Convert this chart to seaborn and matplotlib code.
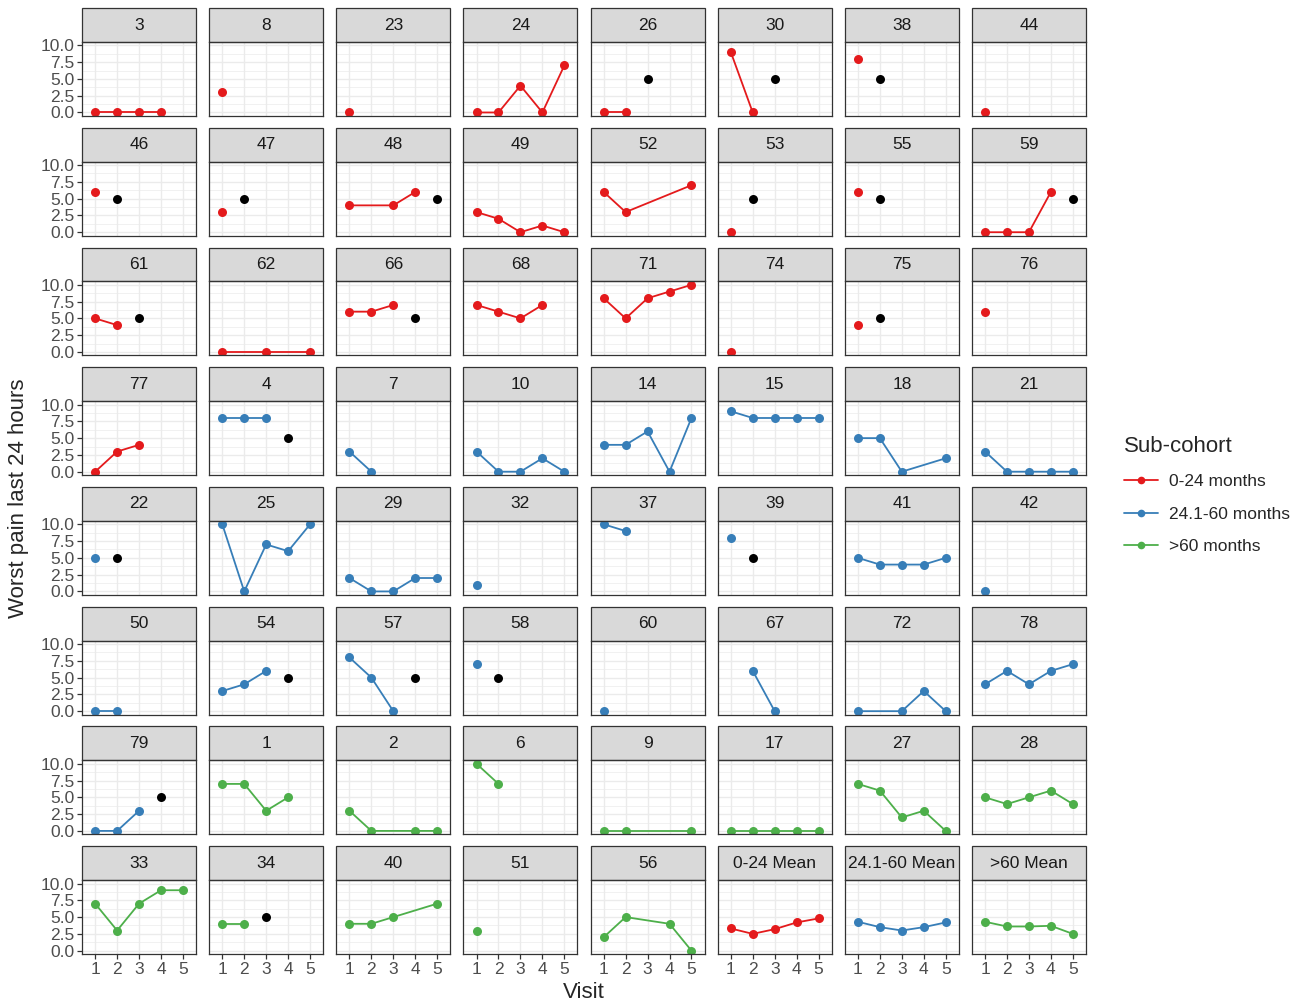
import numpy as np
import pandas as pd
import matplotlib.pyplot as plt
import seaborn as sns
from matplotlib.lines import Line2D
from matplotlib.patches import Rectangle

sns.set_theme(style="white")
plt.rcParams["font.family"] = ["Liberation Sans", "DejaVu Sans"]

# Data
visits = [1, 2, 3, 4, 5]
N = None

panels = ["3", "8", "23", "24", "26", "30", "38", "44",
          "46", "47", "48", "49", "52", "53", "55", "59",
          "61", "62", "66", "68", "71", "74", "75", "76",
          "77", "4", "7", "10", "14", "15", "18", "21",
          "22", "25", "29", "32", "37", "39", "41", "42",
          "50", "54", "57", "58", "60", "67", "72", "78",
          "79", "1", "2", "6", "9", "17", "27", "28",
          "33", "34", "40", "51", "56", "0-24 Mean", "24.1-60 Mean", ">60 Mean"]

cohort_names = ["0-24 months", "24.1-60 months", ">60 months"]
panel_cohort = (["0-24 months"] * 25 + ["24.1-60 months"] * 24 + [">60 months"] * 12
                + ["0-24 months", "24.1-60 months", ">60 months"])

pain = [
    [0, 0, 0, 0, N], [3, N, N, N, N], [0, N, N, N, N], [0, 0, 4, 0, 7],
    [0, 0, N, N, N], [9, 0, N, N, N], [8, N, N, N, N], [0, N, N, N, N],
    [6, N, N, N, N], [3, N, N, N, N], [4, N, 4, 6, N], [3, 2, 0, 1, 0],
    [6, 3, N, N, 7], [0, N, N, N, N], [6, N, N, N, N], [0, 0, 0, 6, N],
    [5, 4, N, N, N], [0, N, 0, N, 0], [6, 6, 7, N, N], [7, 6, 5, 7, N],
    [8, 5, 8, 9, 10], [0, N, N, N, N], [4, N, N, N, N], [6, N, N, N, N],
    [0, 3, 4, N, N], [8, 8, 8, N, N], [3, 0, N, N, N], [3, 0, 0, 2, 0],
    [4, 4, 6, 0, 8], [9, 8, 8, 8, 8], [5, 5, 0, N, 2], [3, 0, 0, 0, 0],
    [5, N, N, N, N], [10, 0, 7, 6, 10], [2, 0, 0, 2, 2], [1, N, N, N, N],
    [10, 9, N, N, N], [8, N, N, N, N], [5, 4, 4, 4, 5], [0, N, N, N, N],
    [0, 0, N, N, N], [3, 4, 6, N, N], [8, 5, 0, N, N], [7, N, N, N, N],
    [0, N, N, N, N], [N, 6, 0, N, N], [0, N, 0, 3, 0], [4, 6, 4, 6, 7],
    [0, 0, 3, N, N], [7, 7, 3, 5, N], [3, 0, N, 0, 0], [10, 7, N, N, N],
    [0, 0, N, N, 0], [0, 0, 0, 0, 0], [7, 6, 2, 3, 0], [5, 4, 5, 6, 4],
    [7, 3, 7, 9, 9], [4, 4, N, N, N], [4, 4, 5, N, 7], [3, N, N, N, N],
    [2, 5, N, 4, 0], [3.3, 2.5, 3.2, 4.2, 4.8], [4.3, 3.5, 3.0, 3.5, 4.2],
    [4.3, 3.6, 3.6, 3.7, 2.5],
]

# black (event) points
event_panels = ["26", "30", "38", "46", "47", "48", "53", "55", "59", "61",
                "66", "75", "4", "22", "39", "54", "57", "58", "79", "34"]
event_visits = [3, 3, 2, 2, 2, 5, 2, 2, 5, 3, 4, 2, 4, 2, 2, 4, 4, 2, 4, 3]
event_pain = [5, 5, 5, 5, 5, 5, 5, 5, 5, 5, 5, 5, 5, 5, 5, 5, 5, 5, 5, 5]

palette = {"0-24 months": "#E41A1C", "24.1-60 months": "#377EB8", ">60 months": "#4DAF4A"}

# Long tables
rows = []
for p, c, vals in zip(panels, panel_cohort, pain):
    for v, y in zip(visits, vals):
        if y is not None:
            rows.append({"panel": p, "visit": v, "pain": y, "cohort": c, "kind": "score"})
for p, v, y in zip(event_panels, event_visits, event_pain):
    rows.append({"panel": p, "visit": v, "pain": y, "cohort": "event", "kind": "event"})
df = pd.DataFrame(rows)


def draw(data, **kws):
    obs = data[data["kind"] == "score"]
    sns.lineplot(data=obs, x="visit", y="pain", hue="cohort", palette=palette,
                 hue_order=cohort_names, marker="o", markersize=6.5, markeredgewidth=0,
                 linewidth=1.3, legend=False, estimator=None, sort=True)
    ev = data[data["kind"] == "event"]
    if len(ev):
        sns.scatterplot(data=ev, x="visit", y="pain", color="black", s=42,
                        linewidth=0, legend=False, zorder=5)


g = sns.FacetGrid(df, col="panel", col_wrap=8, col_order=panels,
                  sharex=True, sharey=True, height=1.2, aspect=1.5)
g.map_dataframe(draw)

g.set_titles("")
g.set_axis_labels("", "")
fig = g.figure
fig.set_size_inches(12.98, 10.06)

for i, name in enumerate(panels):
    ax = g.axes_dict[name]
    row, col = divmod(i, 8)
    ax.set_xlim(0.4, 5.6)
    ax.set_ylim(-0.5, 10.5)
    ax.set_xticks(visits)
    ax.set_yticks([0, 2.5, 5, 7.5, 10])
    ax.set_yticks([1.25, 3.75, 6.25, 8.75], minor=True)
    ax.grid(True, which="major", color="#EBEBEB", linewidth=1.0, zorder=0)
    ax.grid(True, which="minor", axis="y", color="#EBEBEB", linewidth=0.5, zorder=0)
    ax.set_axisbelow(True)
    ax.set_facecolor("white")
    for s in ax.spines.values():
        s.set_visible(True)
        s.set_color("#333333")
        s.set_linewidth(0.9)
    ax.tick_params(which="major", direction="out", length=3.5, width=0.9,
                   color="#333333", labelcolor="#4D4D4D", labelsize=12.5, pad=2)
    ax.tick_params(which="minor", length=0)
    if col == 0:
        ax.set_yticklabels(["0.0", "2.5", "5.0", "7.5", "10.0"])
        ax.tick_params(axis="y", left=True, labelleft=True)
    else:
        ax.tick_params(axis="y", left=False, labelleft=False)
    if row == 7:
        ax.tick_params(axis="x", bottom=True, labelbottom=True)
    else:
        ax.tick_params(axis="x", bottom=False, labelbottom=False)
    ax.set_xlabel("")
    ax.set_ylabel("")
    # strip
    strip_h = 0.46
    ax.add_patch(Rectangle((0, 1), 1, strip_h, transform=ax.transAxes, clip_on=False,
                           facecolor="#D9D9D9", edgecolor="#333333", linewidth=0.9))
    ax.text(0.5, 1 + strip_h / 2, name, transform=ax.transAxes, ha="center", va="center",
            fontsize=12.5, color="#1A1A1A")

fig.subplots_adjust(left=82 / 1298, right=1086 / 1298, top=1 - 42 / 1006,
                    bottom=1 - 954 / 1006, wspace=13 / 114, hspace=46 / 74)

fig.text(584 / 1298, 1 - 993 / 1006, "Visit", ha="center", va="center", fontsize=16)
fig.text(19 / 1298, 1 - 498 / 1006, "Worst pain last 24 hours", ha="center", va="center",
         rotation=90, fontsize=16)

handles = [Line2D([0], [0], color=palette[c], marker="o", markersize=5.5, linewidth=1.3,
                  markeredgewidth=0) for c in cohort_names]
leg = fig.legend(handles, cohort_names, title="Sub-cohort", loc="upper left",
                 bbox_to_anchor=(1108 / 1298, 1 - 420 / 1006), frameon=False,
                 fontsize=12.5, title_fontsize=16, handlelength=2.0, handletextpad=0.6,
                 labelspacing=1.0, alignment="left")

fig.savefig("out.png", dpi=100)
